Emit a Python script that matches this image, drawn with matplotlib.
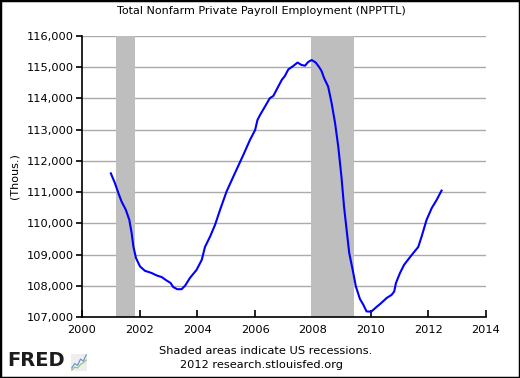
"""FRED style chart: Total Nonfarm Private Payroll Employment (NPPTTL)."""

import matplotlib
matplotlib.use("Agg")
import matplotlib.pyplot as plt
from matplotlib.patches import Rectangle
from matplotlib.ticker import FuncFormatter

# values (fractional year, thousands of persons)
years = [
    2001.00, 2001.14, 2001.26, 2001.37, 2001.52, 2001.64, 2001.72, 2001.78,
    2001.87, 2002.01, 2002.18, 2002.41, 2002.59, 2002.76, 2002.93, 2003.07,
    2003.16, 2003.30, 2003.45, 2003.57, 2003.74, 2003.97, 2004.15, 2004.26,
    2004.44, 2004.61, 2004.78, 2005.01, 2005.30, 2005.59, 2005.82, 2006.00,
    2006.08, 2006.17, 2006.34, 2006.51, 2006.63, 2006.80, 2006.92, 2007.03,
    2007.15, 2007.32, 2007.47, 2007.61, 2007.73, 2007.84, 2007.96, 2008.10,
    2008.22, 2008.30, 2008.39, 2008.53, 2008.65, 2008.77, 2008.88, 2008.99,
    2009.08, 2009.17, 2009.26, 2009.38, 2009.49, 2009.63, 2009.75, 2009.86,
    2010.02, 2010.18, 2010.36, 2010.56, 2010.73, 2010.82, 2010.88, 2011.02,
    2011.16, 2011.31, 2011.48, 2011.65, 2011.77, 2011.94, 2012.12, 2012.29,
    2012.46,
]
payroll = [
    111600, 111290, 110970, 110700, 110430, 110110, 109690, 109260,
    108890, 108620, 108480, 108410, 108330, 108280, 108170, 108090,
    107960, 107890, 107890, 108000, 108250, 108510, 108830, 109240,
    109580, 109950, 110420, 111020, 111610, 112190, 112670, 112990,
    113310, 113470, 113740, 114010, 114080, 114380, 114590, 114720,
    114930, 115040, 115150, 115070, 115050, 115170, 115230, 115150,
    115000, 114880, 114650, 114380, 113850, 113210, 112460, 111500,
    110540, 109790, 109050, 108510, 107980, 107580, 107390, 107180,
    107170, 107300, 107440, 107610, 107710, 107820, 108090, 108410,
    108670, 108850, 109050, 109240, 109580, 110110, 110490, 110750,
    111050,
]

recessions = [(2001.17, 2001.84), (2007.92, 2009.42)]
x_ticks = list(range(2000, 2016, 2))
y_ticks = list(range(107000, 117000, 1000))

# little logo sparkline
logo_x = [0, 1, 2, 3, 4, 5]
logo_a = [1, 2, 1.6, 3, 2.6, 4]
logo_b = [0.5, 1.2, 1.0, 1.8, 2.2, 2.8]

fig = plt.figure(figsize=(5.2, 3.78), dpi=100)
ax = fig.add_axes([82 / 520, 1 - 317 / 378, 404 / 520, 281 / 378])

for start, end in recessions:
    ax.axvspan(start, end, color="#bebebe", lw=0, zorder=1)

ax.plot(years, payroll, color="#0000ff", lw=1.5, zorder=3)

ax.set_xlim(2000, 2014)
ax.set_ylim(107000, 116000)
ax.set_xticks(x_ticks)
ax.set_yticks(y_ticks)
ax.yaxis.set_major_formatter(FuncFormatter(lambda v, p: f"{int(v):,}"))
ax.grid(axis="y", color="#aaaaaa", lw=1, zorder=0)
ax.set_axisbelow(True)
for side in ("top", "right"):
    ax.spines[side].set_visible(False)
for side in ("left", "bottom"):
    ax.spines[side].set_linewidth(1.2)
ax.tick_params(axis="x", direction="in", length=5, width=1.2, pad=6, labelsize=8.2)
ax.tick_params(axis="y", direction="out", length=4, width=1.2, pad=2, labelsize=8.2)

fig.text(261 / 520, 1 - 11 / 378, "Total Nonfarm Private Payroll Employment (NPPTTL)",
         ha="center", va="center", fontsize=8)
fig.text(14 / 520, 1 - 176 / 378, "(Thous.)", rotation=90, ha="center", va="center",
         fontsize=8)
fig.text(266 / 520, 1 - 351 / 378, "Shaded areas indicate US recessions.",
         ha="center", va="center", fontsize=8.2)
fig.text(262 / 520, 1 - 365 / 378, "2012 research.stlouisfed.org",
         ha="center", va="center", fontsize=8.2)
fig.text(7 / 520, 1 - 361 / 378, "FRED", ha="left", va="center", fontsize=14,
         fontweight="heavy", color="#1c1c1c")

logo = fig.add_axes([71 / 520, 1 - 371 / 378, 16 / 520, 17 / 378])
logo.plot(logo_x, logo_a, color="#5b8fd0", lw=0.8)
logo.plot(logo_x, logo_b, color="#8cc06c", lw=0.8)
logo.set_facecolor("#eeeeee")
logo.set_xticks([])
logo.set_yticks([])
for s in logo.spines.values():
    s.set_visible(False)

fig.patches.append(Rectangle((0, 0), 1, 1, transform=fig.transFigure, fill=False,
                             edgecolor="black", lw=2.5))

fig.savefig("out.png", dpi=100)
